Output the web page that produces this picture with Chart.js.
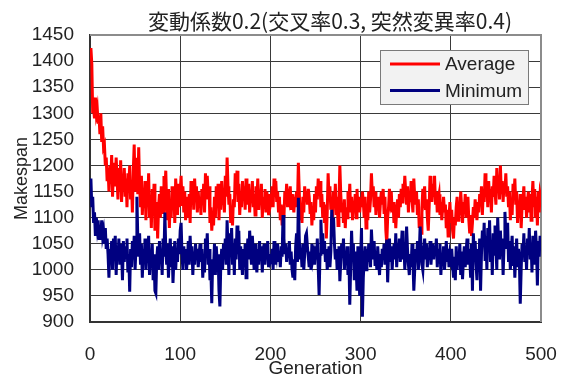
<!DOCTYPE html>
<html>
<head>
<meta charset="utf-8">
<script src="https://cdn.jsdelivr.net/npm/chart.js@4/dist/chart.umd.min.js"></script>
<style>
  html, body { margin: 0; padding: 0; background: #fff; }
  #chart { display: block; }
</style>
</head>
<body>
<canvas id="chart" width="566" height="376"></canvas>
<script>
const chartTitle = '変動係数0.2(交叉率0.3, 突然変異率0.4)';
const xTitle = 'Generation';
const yTitle = 'Makespan';
const seriesNames = ['Average', 'Minimum'];

const xTicks = [0, 100, 200, 300, 400, 500];
const yTicks = [900, 950, 1000, 1050, 1100, 1150, 1200, 1250, 1300, 1350, 1400, 1450];

// generations 1..500
const generations = Array.from({ length: 500 }, (_, i) => i + 1);

const averageValues = [
  1425, 1395, 1300, 1310, 1290, 1330, 1300, 1310, 1280, 1295, 1260, 1300, 1245, 1275, 1235, 1240, 1200, 1215, 1170, 1195,
  1150, 1200, 1165, 1220, 1140, 1190, 1205, 1160, 1215, 1175, 1135, 1195, 1150, 1210, 1130, 1180, 1160, 1195, 1140, 1175,
  1120, 1185, 1155, 1200, 1135, 1165, 1110, 1190, 1240, 1150, 1175, 1215, 1145, 1235, 1160, 1120, 1180, 1105, 1150, 1130,
  1170, 1095, 1160, 1125, 1185, 1100, 1140, 1080, 1155, 1110, 1165, 1075, 1090, 1130, 1060, 1120, 1145, 1100, 1160, 1135,
  1110, 1180, 1150, 1190, 1125, 1095, 1155, 1080, 1135, 1100, 1160, 1115, 1150, 1090, 1175, 1140, 1105, 1165, 1120, 1150,
  1180, 1125, 1160, 1110, 1150, 1095, 1140, 1120, 1100, 1145, 1090, 1170, 1130, 1165, 1115, 1175, 1135, 1160, 1110, 1150,
  1120, 1140, 1105, 1155, 1125, 1165, 1110, 1185, 1135, 1180, 1145, 1160, 1090, 1120, 1075, 1105, 1085, 1140, 1100, 1160,
  1130, 1165, 1095, 1150, 1115, 1170, 1125, 1145, 1110, 1180, 1140, 1215, 1160, 1125, 1145, 1090, 1110, 1085, 1135, 1120,
  1185, 1150, 1190, 1130, 1165, 1105, 1145, 1120, 1170, 1135, 1160, 1115, 1175, 1140, 1125, 1165, 1110, 1150, 1130, 1170,
  1120, 1145, 1105, 1160, 1130, 1175, 1115, 1150, 1125, 1165, 1100, 1140, 1120, 1155, 1110, 1150, 1130, 1105, 1145, 1125,
  1135, 1160, 1120, 1175, 1145, 1170, 1130, 1150, 1110, 1140, 1095, 1125, 1085, 1120, 1100, 1150, 1130, 1165, 1120, 1155,
  1140, 1160, 1115, 1145, 1130, 1110, 1140, 1120, 1150, 1125, 1205, 1150, 1095, 1120, 1090, 1140, 1110, 1160, 1135, 1150,
  1125, 1155, 1140, 1110, 1130, 1085, 1120, 1095, 1145, 1110, 1160, 1135, 1175, 1150, 1170, 1120, 1145, 1100, 1130, 1090,
  1125, 1060, 1110, 1185, 1140, 1160, 1115, 1135, 1095, 1150, 1120, 1165, 1105, 1140, 1085, 1130, 1200, 1145, 1110, 1125,
  1090, 1135, 1080, 1120, 1100, 1150, 1125, 1165, 1110, 1140, 1095, 1130, 1115, 1145, 1100, 1155, 1120, 1140, 1110, 1135,
  1120, 1150, 1130, 1100, 1140, 1080, 1125, 1095, 1150, 1110, 1135, 1185, 1145, 1160, 1120, 1150, 1105, 1135, 1115, 1140,
  1100, 1130, 1150, 1125, 1155, 1110, 1140, 1075, 1050, 1100, 1120, 1155, 1135, 1150, 1110, 1130, 1090, 1125, 1080, 1115,
  1135, 1100, 1145, 1120, 1155, 1130, 1165, 1140, 1180, 1150, 1125, 1160, 1110, 1145, 1130, 1170, 1135, 1110, 1175, 1140,
  1125, 1150, 1105, 1135, 1080, 1095, 1070, 1120, 1155, 1140, 1160, 1115, 1135, 1100, 1075, 1120, 1180, 1150, 1130, 1165,
  1140, 1180, 1125, 1150, 1110, 1135, 1145, 1105, 1130, 1095, 1120, 1140, 1110, 1125, 1080, 1115, 1065, 1100, 1130, 1090,
  1115, 1075, 1060, 1100, 1085, 1120, 1140, 1095, 1125, 1105, 1150, 1120, 1090, 1130, 1110, 1145, 1100, 1125, 1140, 1095,
  1070, 1105, 1065, 1090, 1120, 1100, 1135, 1115, 1095, 1130, 1110, 1145, 1125, 1160, 1105, 1150, 1130, 1185, 1140, 1165,
  1120, 1170, 1135, 1155, 1110, 1160, 1140, 1180, 1150, 1125, 1195, 1155, 1175, 1135, 1200, 1145, 1170, 1130, 1165, 1150,
  1185, 1140, 1160, 1120, 1150, 1095, 1130, 1105, 1165, 1140, 1175, 1125, 1150, 1090, 1130, 1110, 1145, 1080, 1120, 1135,
  1160, 1115, 1140, 1100, 1130, 1150, 1110, 1145, 1095, 1135, 1170, 1120, 1155, 1100, 1140, 1085, 1150, 1110, 1145, 1135
];

const minimumValues = [
  1175, 1120, 1140, 1090, 1110, 1065, 1100, 1080, 1095, 1060, 1085, 1070, 1095, 1065, 1075, 1050, 1080, 1040, 1060, 1030,
  985, 1040, 1020, 1055, 1000, 1060, 1030, 1065, 990, 1045, 1020, 1060, 1010, 1050, 1035, 980, 1055, 1015, 1045, 1025,
  1060, 995, 1030, 958, 1040, 1005, 1055, 1020, 1065, 1000, 1045, 1140, 1060, 1025, 1070, 1010, 1050, 985, 1040, 1015,
  1060, 1000, 1045, 1025, 1065, 990, 1035, 1010, 1050, 980, 1030, 960, 955, 1020, 1045, 1000, 1055, 1015, 1040, 990,
  1060, 1025, 1110, 1040, 1010, 1050, 985, 1030, 1060, 1005, 1045, 975, 1020, 1055, 1000, 1040, 1015, 1060, 1030, 1075,
  1090, 1030, 1000, 1045, 1015, 1040, 1000, 1020, 1055, 1010, 1065, 1025, 1045, 990, 1035, 1010, 1050, 1020, 1040, 1005,
  1030, 1050, 1015, 1040, 985, 1020, 995, 1060, 1030, 1070, 1010, 1040, 980, 1000, 936, 1020, 1005, 1050, 990, 1045,
  1015, 1030, 960, 930, 1010, 1040, 1000, 1050, 1020, 1060, 1010, 1095, 1040, 990, 1070, 1030, 1080, 1010, 1050, 990,
  1060, 1020, 1085, 1030, 1075, 1000, 1045, 1020, 990, 1040, 1005, 1050, 985, 1030, 1060, 1020, 1075, 1040, 1010, 1065,
  1030, 1000, 1050, 1015, 995, 1040, 1010, 1055, 1020, 1045, 995, 1035, 1050, 1010, 1040, 1020, 1055, 1005, 1030, 1015,
  1020, 1040, 1000, 1055, 1010, 1045, 1030, 1050, 1015, 1035, 1005, 1045, 1025, 1105, 1060, 1030, 1050, 1015, 1040, 1025,
  1055, 1010, 1035, 1000, 985, 1020, 980, 1045, 1070, 1015, 1138, 1060, 1020, 1040, 1005, 1050, 1000, 1030, 1065, 1070,
  1045, 1025, 1005, 1035, 1000, 1050, 1020, 1030, 1010, 1045, 1020, 1060, 1005, 952, 1030, 1096, 1045, 1070, 1030, 1055,
  1015, 1040, 1000, 1025, 1045, 1005, 1035, 1115, 1080, 1100, 1050, 1020, 1040, 1000, 1030, 1045, 978, 1015, 1050, 1025,
  1060, 1000, 1035, 1010, 1045, 990, 1030, 933, 1005, 1075, 1020, 1050, 980, 1035, 1010, 960, 1045, 1000, 950, 1020,
  1080, 910, 985, 1020, 1045, 1000, 1040, 1015, 1050, 1025, 1005, 1077, 1040, 1020, 1055, 1010, 1035, 1000, 1045, 1015,
  990, 1030, 1005, 1040, 1020, 1050, 1010, 1035, 1058, 976, 1030, 1060, 1015, 1045, 1000, 1035, 1050, 1020, 1070, 1005,
  1045, 1030, 1060, 1015, 1040, 1075, 1020, 1050, 1000, 1035, 1083, 1040, 1010, 990, 1030, 1005, 1050, 1020, 960, 1000,
  1040, 1015, 1055, 1000, 1030, 1083, 1045, 1010, 999, 1035, 1060, 1020, 1050, 1005, 1040, 1025, 1055, 1010, 1035, 1050,
  1020, 1045, 1030, 1060, 1005, 1040, 1015, 1050, 990, 1030, 1010, 1045, 1000, 1025, 1055, 1015, 1040, 1005, 1030, 1020,
  1040, 1010, 985, 1025, 980, 1045, 1000, 1030, 1015, 1050, 990, 1035, 982, 1020, 1045, 1005, 1035, 1060, 1010, 1040,
  1025, 985, 1050, 960, 1070, 1030, 1055, 1010, 980, 1040, 1000, 1060, 960, 1030, 1075, 1045, 1090, 1020, 1065, 1000,
  1080, 1040, 1095, 1015, 1055, 990, 1070, 1030, 1085, 1045, 1000, 1100, 1050, 1020, 1075, 1030, 1060, 990, 1045, 1111,
  1070, 1040, 1090, 1015, 1055, 1000, 1035, 1065, 1010, 1045, 985, 1030, 1060, 1005, 1040, 1020, 935, 1000, 1050, 1025,
  1070, 1015, 1045, 1000, 1060, 1030, 1080, 1020, 1050, 995, 1065, 1035, 1010, 1075, 1040, 970, 1055, 1025, 1065, 1050
];

const seriesColors = ['#ff0000', '#000080'];

const textColor = '#222';
const gridColor = '#3a3a3a';
const frameColor = '#8c8c8c';

// title drawn a bit right of centre, like the original sheet
const titlePlugin = {
  id: 'sheetTitle',
  afterDraw(chart) {
    const { ctx } = chart;
    ctx.save();
    ctx.font = '21px "Noto Sans CJK JP"';
    ctx.fillStyle = textColor;
    ctx.textAlign = 'center';
    ctx.textBaseline = 'middle';
    ctx.fillText(chartTitle, 330, 21);
    ctx.restore();
  }
};

// grey border on top and right of the plot area
const framePlugin = {
  id: 'plotFrame',
  beforeDatasetsDraw(chart) {
    const { ctx, chartArea: a } = chart;
    ctx.save();
    ctx.strokeStyle = frameColor;
    ctx.lineWidth = 2;
    ctx.beginPath();
    ctx.moveTo(a.left, a.top);
    ctx.lineTo(a.right, a.top);
    ctx.lineTo(a.right, a.bottom);
    ctx.stroke();
    ctx.restore();
  }
};

// boxed legend inside the plot, top right
const legendPlugin = {
  id: 'boxLegend',
  afterDraw(chart) {
    const { ctx } = chart;
    const box = { x: 380, y: 50, w: 148, h: 54 };
    ctx.save();
    ctx.fillStyle = '#f2f2f2';
    ctx.fillRect(box.x, box.y, box.w, box.h);
    ctx.strokeStyle = '#7a7a7a';
    ctx.lineWidth = 1;
    ctx.strokeRect(box.x + 0.5, box.y + 0.5, box.w, box.h);

    ctx.font = '19px "Liberation Sans"';
    ctx.textBaseline = 'middle';
    ctx.textAlign = 'left';
    chart.data.datasets.forEach((ds, i) => {
      const y = box.y + 14 + i * 26.5;
      ctx.strokeStyle = ds.borderColor;
      ctx.lineWidth = 3;
      ctx.beginPath();
      ctx.moveTo(box.x + 10, y);
      ctx.lineTo(box.x + 60, y);
      ctx.stroke();
      ctx.fillStyle = textColor;
      ctx.fillText(ds.label, box.x + 65, y + 1);
    });
    ctx.restore();
  }
};

const ctx = document.getElementById('chart');

new Chart(ctx, {
  type: 'line',
  data: {
    labels: generations,
    datasets: [
      {
        label: seriesNames[0],
        data: averageValues,
        borderColor: seriesColors[0],
        borderWidth: 3,
        pointRadius: 0,
        tension: 0,
        order: 1
      },
      {
        label: seriesNames[1],
        data: minimumValues,
        borderColor: seriesColors[1],
        borderWidth: 3,
        pointRadius: 0,
        tension: 0,
        order: 0
      }
    ]
  },
  options: {
    responsive: false,
    animation: false,
    devicePixelRatio: 1,
    layout: { padding: { top: 35, right: 25, bottom: 0, left: 0 } },
    plugins: {
      legend: { display: false },
      title: { display: false },
      tooltip: { enabled: false }
    },
    scales: {
      x: {
        type: 'linear',
        min: xTicks[0],
        max: xTicks[xTicks.length - 1],
        afterBuildTicks: scale => { scale.ticks = xTicks.map(value => ({ value })); },
        afterFit: scale => {
          scale.height = 54;
          scale.paddingLeft = 0;
          scale.paddingRight = 0;
        },
        ticks: {
          color: textColor,
          font: { family: 'Liberation Sans', size: 19 },
          padding: 21,
          maxRotation: 0,
          callback: value => String(value)
        },
        grid: { color: gridColor, lineWidth: 1, drawTicks: false },
        border: { color: '#333', width: 2 },
        title: {
          display: true,
          text: xTitle,
          color: textColor,
          font: { family: 'Liberation Sans', size: 19, lineHeight: 0.8 },
          padding: { top: 0, bottom: 0 }
        }
      },
      y: {
        min: yTicks[0],
        max: yTicks[yTicks.length - 1],
        afterBuildTicks: scale => { scale.ticks = yTicks.map(value => ({ value })); },
        afterFit: scale => { scale.width = 90; },
        ticks: {
          color: textColor,
          font: { family: 'Liberation Sans', size: 19 },
          padding: 16,
          callback: value => String(value)
        },
        grid: { color: gridColor, lineWidth: 1, drawTicks: false },
        border: { color: '#333', width: 2 },
        title: {
          display: true,
          text: yTitle,
          color: textColor,
          font: { family: 'Liberation Sans', size: 18 },
          padding: { top: 11, bottom: 0 }
        }
      }
    }
  },
  plugins: [framePlugin, titlePlugin, legendPlugin]
});
</script>
</body>
</html>
